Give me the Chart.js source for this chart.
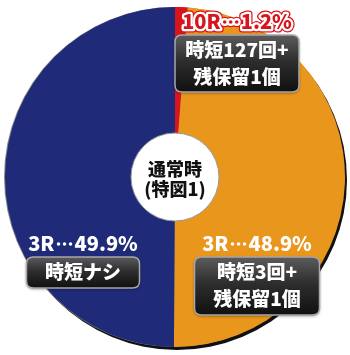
<!DOCTYPE html>
<html>
<head>
<meta charset="utf-8">
<script src="https://cdn.jsdelivr.net/npm/chart.js@4/dist/chart.umd.min.js"></script>
<style>
  html, body { margin: 0; padding: 0; background: #fff; }
  #wrap { width: 350px; height: 355px; }
</style>
</head>
<body>
<div id="wrap"><canvas id="pie"></canvas></div>
<script>
// slices, clockwise from 12 o'clock
const rounds = ['10R', '3R', '3R'];
const shares = [1.2, 48.9, 49.9];
const jitanNotes = [['時短127回+', '残保留1個'], ['時短3回+', '残保留1個'], ['時短ナシ']];
const sliceColors = ['#d8141d', '#e9961c', '#1f2a79'];
const centerTitle = ['通常時', '(特図1)'];

const FONT = '"Noto Sans CJK JP", "Noto Sans", sans-serif';

// where each label block sits, offset from pie centre (layout only)
const labelSpots = [
    { dx: 62, dy: -156, boxW: 124, boxH: 57, red: true },
    { dx: 82, dy: 66, boxW: 125, boxH: 58, red: false },
    { dx: -92, dy: 66, boxW: 113, boxH: 31, red: false }
];

function roundRect(ctx, x, y, w, h, r) {
    ctx.beginPath();
    ctx.moveTo(x + r, y);
    ctx.lineTo(x + w - r, y);
    ctx.quadraticCurveTo(x + w, y, x + w, y + r);
    ctx.lineTo(x + w, y + h - r);
    ctx.quadraticCurveTo(x + w, y + h, x + w - r, y + h);
    ctx.lineTo(x + r, y + h);
    ctx.quadraticCurveTo(x, y + h, x, y + h - r);
    ctx.lineTo(x, y + r);
    ctx.quadraticCurveTo(x, y, x + r, y);
    ctx.closePath();
}

// "3R⋯48.9%" with the dots at mid height; pass = 'stroke' or 'fill'
function headText(ctx, left, right, x, y, pass) {
    const dotsW = 20;
    const wl = ctx.measureText(left).width;
    const wr = ctx.measureText(right).width;
    const x0 = x - (wl + dotsW + wr) / 2;
    ctx.textAlign = 'left';
    if (pass === 'stroke') {
        ctx.strokeText(left, x0, y);
        ctx.strokeText(right, x0 + wl + dotsW, y);
    } else {
        ctx.fillText(left, x0, y);
        ctx.fillText(right, x0 + wl + dotsW, y);
    }
    for (let k = 0; k < 3; k++) {
        ctx.beginPath();
        ctx.arc(x0 + wl + 4 + k * 6, y + 1, 1.8, 0, Math.PI * 2);
        if (pass === 'stroke') ctx.stroke(); else ctx.fill();
    }
}

const decorPlugin = {
    id: 'decor',
    beforeDatasetsDraw(chart) {
        // drop shadow under the pie
        const arc = chart.getDatasetMeta(0).data[0];
        const ctx = chart.ctx;
        ctx.save();
        ctx.beginPath();
        ctx.arc(arc.x + 2, arc.y + 3, arc.outerRadius, 0, Math.PI * 2);
        ctx.fillStyle = '#111';
        ctx.fill();
        ctx.beginPath();
        ctx.arc(arc.x - 1, arc.y, arc.outerRadius, 0, Math.PI * 2);
        ctx.fillStyle = '#888';
        ctx.fill();
        ctx.restore();
    },
    afterDatasetsDraw(chart) {
        const ctx = chart.ctx;
        const meta = chart.getDatasetMeta(0);
        const cx = meta.data[0].x;
        const cy = meta.data[0].y;

        // centre disc
        ctx.save();
        ctx.beginPath();
        ctx.arc(cx, cy, 44, 0, Math.PI * 2);
        ctx.fillStyle = '#fff';
        ctx.fill();
        ctx.lineWidth = 1;
        ctx.strokeStyle = '#999';
        ctx.stroke();
        ctx.fillStyle = '#111';
        ctx.textAlign = 'center';
        ctx.textBaseline = 'middle';
        ctx.font = '900 18px ' + FONT;
        ctx.fillText(centerTitle[0], cx, cy - 8);
        ctx.fillText(centerTitle[1], cx, cy + 12);
        ctx.restore();

        // labels
        rounds.forEach((r, i) => {
            const spot = labelSpots[i];
            const x = cx + spot.dx;
            const y = cy + spot.dy;
            const right = shares[i].toFixed(1) + '%';
            ctx.save();
            ctx.textBaseline = 'middle';
            ctx.font = '900 20px ' + FONT;
            ctx.lineJoin = 'round';
            if (spot.red) {
                ctx.lineWidth = 7;
                ctx.strokeStyle = '#d8141d';
                headText(ctx, r, right, x, y, 'stroke');
                ctx.lineWidth = 4.5;
                ctx.strokeStyle = '#fff';
                headText(ctx, r, right, x, y, 'stroke');
                ctx.fillStyle = '#d8141d';
            } else {
                ctx.fillStyle = '#fff';
            }
            headText(ctx, r, right, x, y, 'fill');

            // dark box
            const bx = x - spot.boxW / 2;
            const by = y + 14;
            ctx.shadowColor = 'rgba(0,0,0,0.5)';
            ctx.shadowBlur = 3;
            ctx.shadowOffsetY = 1;
            roundRect(ctx, bx, by, spot.boxW, spot.boxH, 7);
            const g = ctx.createLinearGradient(0, by, 0, by + spot.boxH);
            g.addColorStop(0, '#5c5c5c');
            g.addColorStop(0.45, '#2e2e2e');
            g.addColorStop(1, '#101010');
            ctx.fillStyle = g;
            ctx.fill();
            ctx.shadowColor = 'transparent';
            ctx.lineWidth = 1.5;
            ctx.strokeStyle = '#a8a8a8';
            ctx.stroke();

            ctx.fillStyle = '#fff';
            ctx.textAlign = 'center';
            ctx.font = '900 19px ' + FONT;
            jitanNotes[i].forEach((t, k) => {
                ctx.fillText(t, x, by + 15 + k * 27);
            });
            ctx.restore();
        });
    }
};

new Chart(document.getElementById('pie').getContext('2d'), {
    type: 'pie',
    data: {
        labels: rounds,
        datasets: [{
            data: shares,
            backgroundColor: sliceColors,
            borderWidth: 0
        }]
    },
    options: {
        responsive: true,
        maintainAspectRatio: false,
        animation: false,
        layout: { padding: { left: 5, right: 5, top: 7, bottom: 8 } },
        plugins: {
            legend: { display: false },
            tooltip: { enabled: false }
        }
    },
    plugins: [decorPlugin]
});
</script>
</body>
</html>
